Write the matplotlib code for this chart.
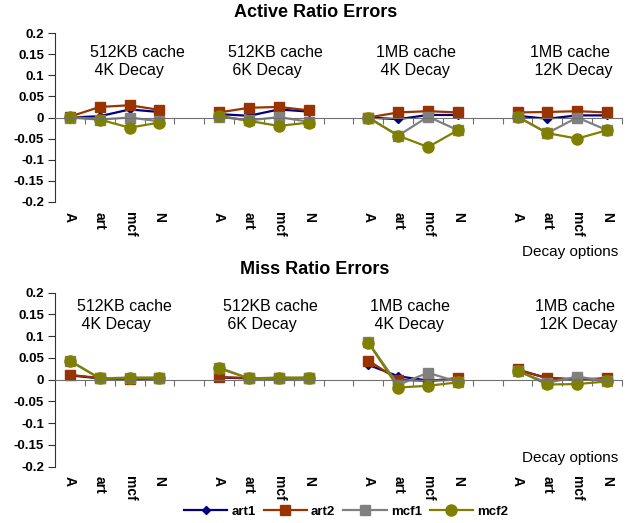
import numpy as np
import matplotlib.pyplot as plt
import matplotlib.transforms as mtransforms

plt.rcParams['font.family'] = ['Liberation Sans', 'DejaVu Sans']

# categories inside each cache/decay group
options = ["A", "art", "mcf", "N"]
groups = ["512KB cache\n 4K Decay", "512KB cache\n 6K Decay",
          "1MB cache\n 4K Decay", "1MB cache\n 12K Decay"]
series = ["art1", "art2", "mcf1", "mcf2"]
yticks = [-0.2, -0.15, -0.1, -0.05, 0, 0.05, 0.1, 0.15, 0.2]
ytick_labels = ["-0.2", "-0.15", "-0.1", "-0.05", "0", "0.05", "0.1", "0.15", "0.2"]

# active ratio errors, one row per group (A, art, mcf, N)
active_art1 = [[0.0, 0.003, 0.019, 0.013], [0.008, 0.004, 0.019, 0.014],
               [0.0, -0.004, 0.006, 0.006], [0.004, -0.003, 0.005, 0.005]]
active_art2 = [[0.002, 0.025, 0.029, 0.018], [0.012, 0.023, 0.025, 0.017],
               [0.0, 0.012, 0.015, 0.012], [0.012, 0.013, 0.015, 0.012]]
active_mcf1 = [[0.0, -0.005, 0.0, -0.009], [0.002, -0.007, 0.001, -0.01],
               [0.0, -0.043, 0.002, -0.03], [0.002, -0.037, 0.0, -0.03]]
active_mcf2 = [[0.002, -0.005, -0.024, -0.012], [0.004, -0.008, -0.02, -0.012],
               [0.0, -0.043, -0.07, -0.03], [0.002, -0.037, -0.05, -0.03]]

# miss ratio errors
miss_art1 = [[0.01, 0.003, 0.002, 0.003], [0.005, 0.003, 0.003, 0.003],
             [0.034, 0.008, -0.002, 0.0], [0.022, 0.004, 0.001, 0.0]]
miss_art2 = [[0.011, 0.004, 0.002, 0.004], [0.006, 0.004, 0.003, 0.004],
             [0.044, 0.0, -0.003, 0.004], [0.024, 0.003, 0.0, 0.004]]
miss_mcf1 = [[0.044, 0.003, 0.005, 0.004], [0.028, 0.003, 0.005, 0.004],
             [0.086, -0.012, 0.016, -0.005], [0.02, -0.007, 0.007, -0.003]]
miss_mcf2 = [[0.043, 0.003, 0.004, 0.005], [0.026, 0.003, 0.004, 0.005],
             [0.085, -0.018, -0.014, -0.006], [0.021, -0.011, -0.01, -0.004]]

styles = {
    "art1": dict(color="#000080", marker="D", ms=4.5),
    "art2": dict(color="#993300", marker="s", ms=7),
    "mcf1": dict(color="#808080", marker="s", ms=7),
    "mcf2": dict(color="#808000", marker="o", ms=8),
}

n_slots = len(groups) * (len(options) + 1) - 1  # blank slot between groups


def spread(rows):
    # lay groups out on one category axis, NaN in the blank slots
    y = np.full(n_slots, np.nan)
    for g, row in enumerate(rows):
        for j, v in enumerate(row):
            y[g * (len(options) + 1) + j] = v
    return y


def draw_panel(ax, data, text_x, text_y):
    x = np.arange(n_slots)
    for name, rows in zip(series, data):
        st = styles[name]
        ax.plot(x, spread(rows), color=st["color"], marker=st["marker"],
                ms=st["ms"], mec=st["color"], mfc=st["color"], lw=1.6,
                label=name)
    ax.set_xlim(-0.5, n_slots - 0.5)
    ax.set_ylim(-0.2, 0.2)
    ax.set_yticks(yticks)
    ax.set_yticklabels(ytick_labels, fontweight="bold", fontsize=9.5)
    ax.tick_params(axis="y", direction="out", length=5, color="#333333", pad=3)

    for s in ["top", "right"]:
        ax.spines[s].set_visible(False)
    ax.spines["left"].set_color("#333333")
    ax.spines["bottom"].set_position(("data", 0))
    ax.spines["bottom"].set_color("#707070")
    ax.set_xticks(np.arange(0.5, n_slots, 1.0))
    ax.set_xticklabels([])
    ax.tick_params(axis="x", direction="out", length=4, color="#707070")
    ax.patch.set_alpha(0)

    # rotated category labels below the plot area
    for g in range(len(groups)):
        for j, opt in enumerate(options):
            ax.annotate(opt, xy=(g * (len(options) + 1) + j, 0),
                        xycoords=("data", "axes fraction"),
                        xytext=(0, -7), textcoords="offset points",
                        rotation=-90, ha="center", va="top",
                        fontweight="bold", fontsize=10)

    trans = mtransforms.blended_transform_factory(ax.transData, ax.transAxes)
    for gx, label in zip(text_x, groups):
        ax.text(gx, text_y, label, transform=trans, ha="left", va="top",
                fontsize=11.5, linespacing=1.25)


fig = plt.figure(figsize=(6.33, 5.23), dpi=100)
W, H = 633, 523

ax1 = fig.add_axes([55 / W, 321 / H, 567 / W, 169 / H])
draw_panel(ax1, [active_art1, active_art2, active_mcf1, active_mcf2],
           [0.68, 5.3, 10.26, 15.42], 0.93)

ax2 = fig.add_axes([55 / W, 56.3 / H, 567 / W, 174 / H])
draw_panel(ax2, [miss_art1, miss_art2, miss_mcf1, miss_mcf2],
           [0.24, 5.13, 10.05, 15.6], 0.965)

fig.text(316 / W, 1 - 12.5 / H, "Active Ratio Errors", ha="center",
         va="center", fontweight="bold", fontsize=13)
fig.text(315 / W, 1 - 269 / H, "Miss Ratio Errors", ha="center",
         va="center", fontweight="bold", fontsize=13)

fig.text(618 / W, 1 - 245 / H, "Decay options", ha="right", va="top",
         fontsize=11)
fig.text(618 / W, 1 - 451 / H, "Decay options", ha="right", va="top",
         fontsize=11)

handles, labels = ax2.get_legend_handles_labels()
fig.legend(handles, labels, loc="center", bbox_to_anchor=(346 / W, 1 - 511.5 / H),
           ncol=4, frameon=False, prop=dict(weight="bold", size=9.5),
           handlelength=3.3, handletextpad=0.3, columnspacing=0.6)

fig.savefig("out.png", dpi=100)
